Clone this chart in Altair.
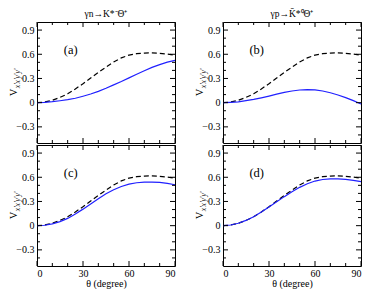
import altair as alt
import pandas as pd

# ---------------- data ----------------
THETA = [0, 5, 10, 15, 20, 25, 30, 35, 40, 45, 50, 55, 60, 65, 70, 75, 80, 85, 90]
DASHED = [0.0, 0.008, 0.03, 0.065, 0.11, 0.17, 0.235, 0.305, 0.375, 0.44, 0.505, 0.555,
          0.59, 0.607, 0.615, 0.617, 0.612, 0.602, 0.588]
SOLID_A = [0.0, 0.003, 0.012, 0.024, 0.038, 0.055, 0.08, 0.107, 0.14, 0.178, 0.22, 0.262,
           0.307, 0.352, 0.395, 0.437, 0.472, 0.502, 0.525]
SOLID_B = [0.0, 0.004, 0.01, 0.025, 0.04, 0.06, 0.082, 0.105, 0.127, 0.145, 0.157, 0.162,
           0.158, 0.145, 0.123, 0.095, 0.062, 0.025, -0.016]
SOLID_C = [0.0, 0.005, 0.022, 0.05, 0.09, 0.145, 0.205, 0.27, 0.335, 0.395, 0.445, 0.485,
           0.515, 0.532, 0.54, 0.54, 0.536, 0.524, 0.507]
SOLID_D = [0.0, 0.008, 0.03, 0.065, 0.11, 0.168, 0.23, 0.295, 0.36, 0.42, 0.475, 0.52,
           0.553, 0.572, 0.58, 0.58, 0.575, 0.562, 0.546]

PANEL_LABELS = ["(a)", "(b)", "(c)", "(d)"]
LABEL_X = [22]
LABEL_Y = [0.65]
TITLES = ["γn→K*⁻Θ⁺", "γp→K̄*⁰Θ⁺"]
Y_TITLE = ["V"]
Y_SUB = ["x'x'y'y'"]
X_TITLE = "θ  (degree)"

X_MAJOR = [0, 30, 60, 90]
X_MINOR = [10, 20, 40, 50, 70, 80]
Y_MAJOR = [-0.3, 0, 0.3, 0.6, 0.9]
Y_MINOR = [-0.4, -0.2, -0.1, 0.1, 0.2, 0.4, 0.5, 0.7, 0.8]

# ---------------- layout / style ----------------
W, H = 138, 121
GAP = 48
FONT = "Liberation Serif"
BLUE = "#2020ff"
xs = alt.Scale(domain=[0, 90], nice=False, zero=False)
ys = alt.Scale(domain=[-0.5, 1.0], nice=False, zero=False)

YAXIS = alt.Axis(values=Y_MAJOR, ticks=False, domain=False, grid=False,
                 labelPadding=3, labelFont=FONT, labelFontSize=10, labelColor="black",
                 labelExpr="datum.value == 0 ? '0' : format(datum.value, '.1f')",
                 title=None)
XAXIS_BOTTOM = alt.Axis(values=X_MAJOR, ticks=False, domain=False, grid=False,
                        labelPadding=2, labelFont=FONT, labelFontSize=10,
                        labelColor="black", format="d", title=X_TITLE, titleFont=FONT,
                        titleFontSize=10, titleFontWeight="normal", titleColor="black",
                        titlePadding=0)


def xticks(vals, length, top, xaxis):
    d = pd.DataFrame({"v": vals})
    y0 = 0 if top else H
    y1 = length if top else H - length
    return alt.Chart(d).mark_rule(color="black", strokeWidth=1).encode(
        x=alt.X("v:Q", scale=xs, axis=xaxis), y=alt.value(y0), y2=alt.value(y1))


def yticks(vals, length, right):
    d = pd.DataFrame({"v": vals})
    x0 = W if right else 0
    x1 = W - length if right else length
    return alt.Chart(d).mark_rule(color="black", strokeWidth=1).encode(
        y=alt.Y("v:Q", scale=ys, axis=YAXIS), x=alt.value(x0), x2=alt.value(x1))


def panel(solid, label, bottom, title=None):
    df = pd.DataFrame({"theta": THETA, "dashed": DASHED, "solid": solid})
    xaxis = XAXIS_BOTTOM if bottom else None
    base = alt.Chart(df)
    dashed = base.mark_line(color="black", strokeDash=[5, 3], strokeWidth=1.2).encode(
        x=alt.X("theta:Q", scale=xs, axis=xaxis),
        y=alt.Y("dashed:Q", scale=ys, axis=YAXIS))
    sol = base.mark_line(color=BLUE, strokeWidth=1.2).encode(
        x=alt.X("theta:Q", scale=xs, axis=xaxis),
        y=alt.Y("solid:Q", scale=ys, axis=YAXIS))
    lab = alt.Chart(pd.DataFrame({"x": LABEL_X, "y": LABEL_Y, "t": [label]})).mark_text(
        font=FONT, fontSize=12.5, align="center", baseline="middle", color="black").encode(
        x=alt.X("x:Q", scale=xs, axis=xaxis), y=alt.Y("y:Q", scale=ys, axis=YAXIS),
        text="t:N")
    vt = alt.Chart(pd.DataFrame({"t": Y_TITLE})).mark_text(
        font=FONT, fontSize=10.5, angle=270, align="center", baseline="middle",
        color="black").encode(x=alt.value(-23), y=alt.value(H / 2 + 10), text="t:N")
    vs = alt.Chart(pd.DataFrame({"t": Y_SUB})).mark_text(
        font=FONT, fontSize=7.5, fontStyle="italic", angle=270, align="center",
        baseline="middle", color="black").encode(x=alt.value(-19), y=alt.value(H / 2 - 4),
                                                 text="t:N")
    layers = [dashed, sol, lab,
              xticks(X_MAJOR, 5, False, xaxis), xticks(X_MINOR, 3, False, xaxis),
              xticks(X_MAJOR, 5, True, xaxis), xticks(X_MINOR, 3, True, xaxis),
              yticks(Y_MAJOR, 5, False), yticks(Y_MINOR, 3, False),
              yticks(Y_MAJOR, 5, True), yticks(Y_MINOR, 3, True),
              vt, vs]
    if title is not None:
        tt = alt.Chart(pd.DataFrame({"t": [title]})).mark_text(
            font=FONT, fontSize=9.5, align="center", baseline="alphabetic",
            color="black").encode(x=alt.value(W / 2), y=alt.value(-5), text="t:N")
        layers.append(tt)
    return alt.layer(*layers).properties(width=W, height=H)


top = alt.hconcat(panel(SOLID_A, PANEL_LABELS[0], False, TITLES[0]),
                  panel(SOLID_B, PANEL_LABELS[1], False, TITLES[1]),
                  spacing=GAP, bounds="flush")
bottom = alt.hconcat(panel(SOLID_C, PANEL_LABELS[2], True),
                     panel(SOLID_D, PANEL_LABELS[3], True),
                     spacing=GAP, bounds="flush")

chart = alt.vconcat(top, bottom, spacing=0).properties(
    padding={"left": 0, "top": 0, "right": 0, "bottom": 0}
).configure_view(stroke="black", strokeWidth=1)

chart.save("out.html", embed_options={"renderer": "svg", "actions": False})
